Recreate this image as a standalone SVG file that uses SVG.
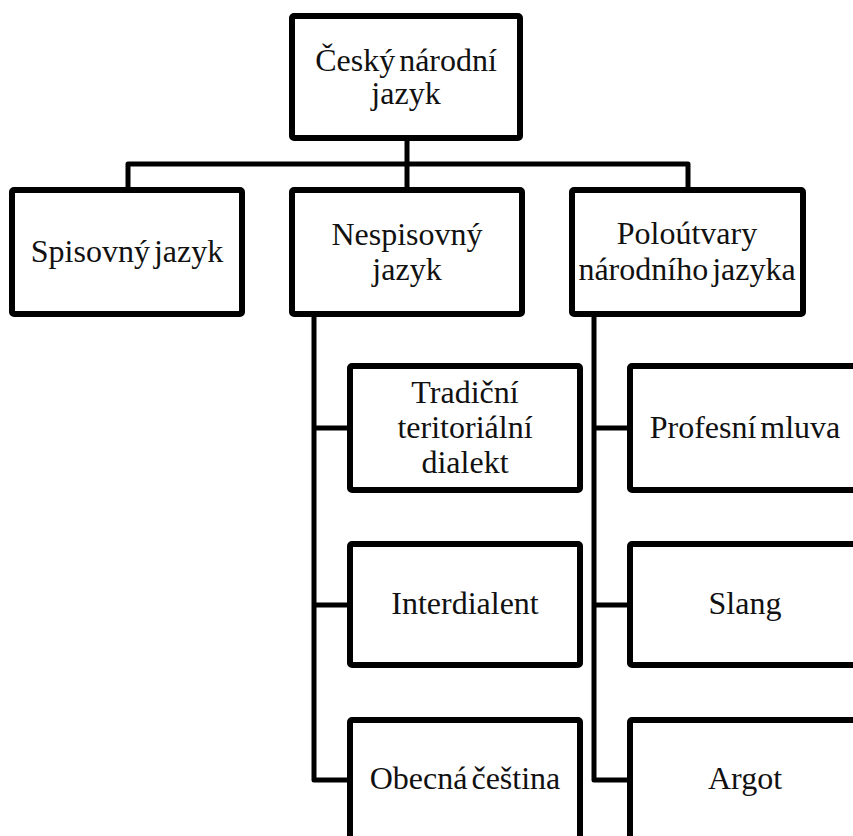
<svg xmlns="http://www.w3.org/2000/svg" width="853" height="836" viewBox="0 0 853 836">
<style>
.box{fill:#fff;stroke:#000;stroke-width:6;stroke-linejoin:round}
.conn{fill:none;stroke:#000;stroke-width:5;stroke-linejoin:round}
</style>
<rect width="853" height="836" fill="#fff"/>
<g id="connectors">
<path class="conn" d="M407 141 V164 M128 188 V164 H688 V188 M407 164 V188"/>
<path class="conn" d="M314 317 V780 H347 M314 428 H347 M314 605 H347"/>
<path class="conn" d="M594 317 V780 H627 M594 428 H627 M594 605 H627"/>
</g>
<g font-family="Liberation Serif, DejaVu Serif, serif" font-size="32" fill="#111" text-anchor="middle" word-spacing="-4">
<g id="n-root">
<rect class="box" x="292" y="16" width="228" height="122" rx="2"/>
<text x="406" y="71">Český národní</text>
<text x="406" y="104">jazyk</text>
</g>
<g id="n-spisovny">
<rect class="box" x="12" y="190" width="230" height="124" rx="2"/>
<text x="127" y="262">Spisovný jazyk</text>
</g>
<g id="n-nespisovny">
<rect class="box" x="292" y="190" width="230" height="124" rx="2"/>
<text x="407" y="245">Nespisovný</text>
<text x="407" y="280">jazyk</text>
</g>
<g id="n-polo">
<rect class="box" x="572" y="190" width="231" height="124" rx="2"/>
<text x="687" y="244">Poloútvary</text>
<text x="687" y="280">národního jazyka</text>
</g>
<g id="n-tradicni">
<rect class="box" x="350" y="366" width="230" height="124" rx="2"/>
<text x="465" y="403">Tradiční</text>
<text x="465" y="438">teritoriální</text>
<text x="465" y="473">dialekt</text>
</g>
<g id="n-interdialent">
<rect class="box" x="350" y="544" width="230" height="121" rx="2"/>
<text x="465" y="614">Interdialent</text>
</g>
<g id="n-obecna">
<rect class="box" x="350" y="720" width="230" height="124" rx="2"/>
<text x="465" y="789">Obecná čeština</text>
</g>
<g id="n-profesni">
<rect class="box" x="630" y="366" width="230" height="124" rx="2"/>
<text x="745" y="438">Profesní mluva</text>
</g>
<g id="n-slang">
<rect class="box" x="630" y="544" width="230" height="121" rx="2"/>
<text x="745" y="614">Slang</text>
</g>
<g id="n-argot">
<rect class="box" x="630" y="720" width="230" height="124" rx="2"/>
<text x="745" y="789">Argot</text>
</g>
</g>
</svg>
